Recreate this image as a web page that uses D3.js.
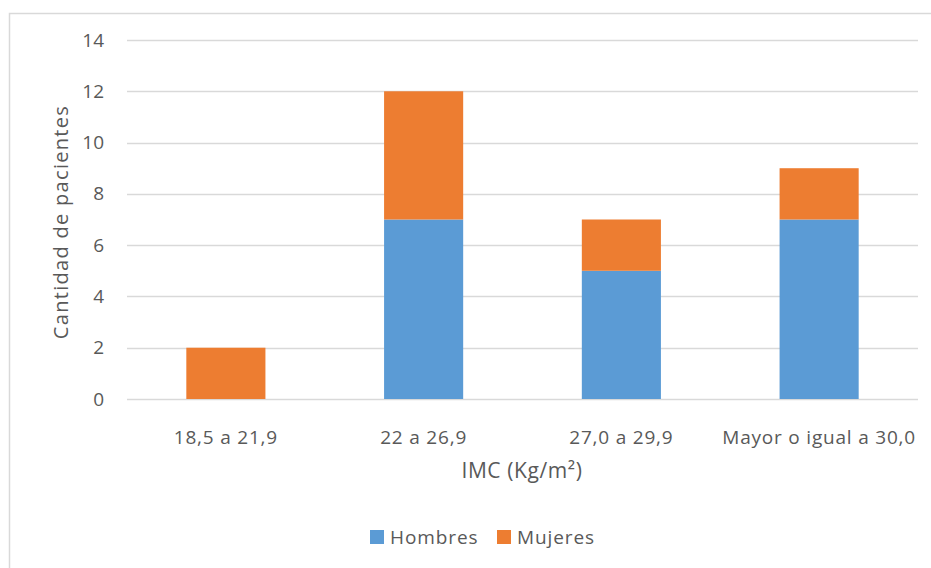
<!DOCTYPE html>
<html>
<head>
<meta charset="utf-8">
<script src="https://cdn.jsdelivr.net/npm/d3@7"></script>
<style>
  html, body { margin: 0; padding: 0; background: #fff; }
  svg { display: block; }
  text { font-family: "Open Sans", Lato, sans-serif; fill: #595959; }
</style>
</head>
<body>
<svg id="chart" width="931" height="568"></svg>
<script>
// IMC ranges and patient counts per sex
const categories = ["18,5 a 21,9", "22 a 26,9", "27,0 a 29,9", "Mayor o igual a 30,0"];
const hombres = [0, 7, 5, 7];
const mujeres = [2, 5, 2, 2];
const seriesNames = ["Hombres", "Mujeres"];
const yTicks = [0, 2, 4, 6, 8, 10, 12, 14];

const colors = { Hombres: "#5b9bd5", Mujeres: "#ed7d31" };

const svg = d3.select("#chart");

// outer chart frame
svg.append("rect")
  .attr("x", 9.5).attr("y", 13.5)
  .attr("width", 940).attr("height", 580)
  .attr("fill", "none").attr("stroke", "#d9d9d9").attr("stroke-width", 1.5);

const plot = { left: 127, right: 918, top: 40, bottom: 399 };

const x = d3.scaleBand()
  .domain(categories)
  .range([plot.left, plot.right])
  .paddingInner(0.6).paddingOuter(0.3);

const y = d3.scaleLinear().domain([0, 14]).range([plot.bottom, plot.top]);

// gridlines
svg.append("g")
  .selectAll("line")
  .data(yTicks)
  .join("line")
  .attr("x1", plot.left).attr("x2", plot.right)
  .attr("y1", d => Math.round(y(d)) + 0.5).attr("y2", d => Math.round(y(d)) + 0.5)
  .attr("stroke", "#d9d9d9").attr("stroke-width", 1.3);

// y axis labels
const yAxis = d3.axisLeft(y).tickValues(yTicks).tickSize(0).tickPadding(0);
const gy = svg.append("g").attr("transform", `translate(104,0)`).call(yAxis);
gy.select(".domain").remove();
gy.selectAll("text")
  .style("font-size", "19px")
  .style("font-family", "'Open Sans', Lato, sans-serif")
  .attr("fill", "#595959");

// stacked data
const rows = categories.map((c, i) => ({ cat: c, Hombres: hombres[i], Mujeres: mujeres[i] }));
const stack = d3.stack().keys(seriesNames)(rows);

svg.append("g")
  .selectAll("g")
  .data(stack)
  .join("g")
  .attr("fill", d => colors[d.key])
  .selectAll("rect")
  .data(d => d.filter(p => p[1] - p[0] > 0))
  .join("rect")
  .attr("x", d => x(d.data.cat))
  .attr("width", x.bandwidth())
  .attr("y", d => y(d[1]))
  .attr("height", d => y(d[0]) - y(d[1]));

// x axis labels
const xAxis = d3.axisBottom(x).tickSize(0).tickPadding(0);
const gx = svg.append("g").attr("transform", `translate(0,${plot.bottom + 31})`).call(xAxis);
gx.select(".domain").remove();
gx.selectAll("text")
  .style("font-size", "19px")
  .style("letter-spacing", "0.8px")
  .style("font-family", "'Open Sans', Lato, sans-serif")
  .attr("fill", "#595959");

// axis titles
svg.append("text")
  .attr("x", 522).attr("y", 478)
  .attr("text-anchor", "middle")
  .style("font-size", "21px")
  .style("letter-spacing", "0.6px")
  .text("IMC (Kg/m²)");

svg.append("text")
  .attr("transform", "translate(68,222) rotate(-90)")
  .attr("text-anchor", "middle")
  .style("font-size", "20px")
  .style("letter-spacing", "1.3px")
  .text("Cantidad de pacientes");

// legend
const legend = svg.append("g");
const legendItems = [
  { name: "Hombres", x: 370 },
  { name: "Mujeres", x: 497 }
];
legendItems.forEach(it => {
  legend.append("rect")
    .attr("x", it.x).attr("y", 530)
    .attr("width", 14).attr("height", 14)
    .attr("fill", colors[it.name]);
  legend.append("text")
    .attr("x", it.x + 20).attr("y", 544)
    .style("font-size", "19px")
    .style("letter-spacing", "0.9px")
    .text(it.name);
});
</script>
</body>
</html>
